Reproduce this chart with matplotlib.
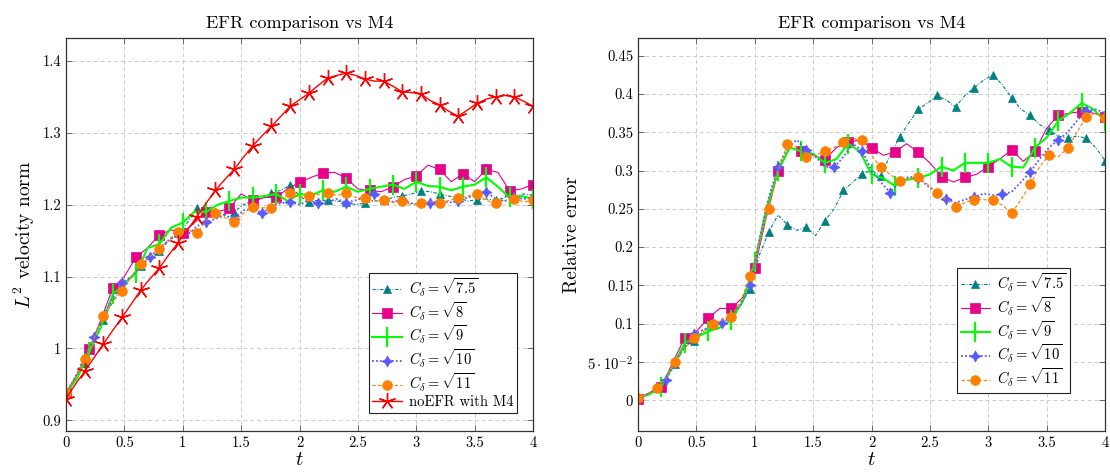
import numpy as np
import matplotlib
matplotlib.use("Agg")
import matplotlib.pyplot as plt

plt.rcParams["font.family"] = "serif"
plt.rcParams["font.serif"] = ["cmr10", "DejaVu Serif"]
plt.rcParams["mathtext.fontset"] = "cm"
plt.rcParams["axes.unicode_minus"] = False
plt.rcParams["axes.formatter.use_mathtext"] = True

# time grids (0.08 and 0.1 spacing)
t08 = np.linspace(0, 4, 51)
t10 = np.linspace(0, 4, 41)

# ---- left panel: L2 velocity norm ----
norm_75 = [0.937, 0.955, 0.980, 1.010, 1.040, 1.065, 1.085, 1.100, 1.115, 1.125, 1.135, 1.150, 1.160,
           1.175, 1.195, 1.192, 1.190, 1.186, 1.190, 1.200, 1.205, 1.208, 1.216, 1.220, 1.227, 1.212,
           1.204, 1.206, 1.206, 1.205, 1.204, 1.200, 1.202, 1.205, 1.206, 1.210, 1.212, 1.215, 1.219,
           1.218, 1.215, 1.212, 1.210, 1.205, 1.207, 1.208, 1.206, 1.210, 1.212, 1.215, 1.213]
norm_8 = [0.938, 0.965, 0.999, 1.040, 1.084, 1.100, 1.127, 1.140, 1.158, 1.165, 1.160, 1.175, 1.190,
          1.190, 1.195, 1.215, 1.206, 1.210, 1.211, 1.222, 1.231, 1.238, 1.244, 1.245, 1.237, 1.222,
          1.220, 1.218, 1.225, 1.235, 1.240, 1.255, 1.249, 1.232, 1.243, 1.232, 1.249, 1.245, 1.219,
          1.222, 1.228]
norm_9 = [0.937, 0.960, 0.995, 1.030, 1.075, 1.090, 1.105, 1.140, 1.145, 1.168, 1.175, 1.190, 1.190,
          1.200, 1.205, 1.210, 1.210, 1.212, 1.215, 1.205, 1.215, 1.213, 1.220, 1.218, 1.225, 1.218,
          1.222, 1.225, 1.228, 1.222, 1.232, 1.226, 1.225, 1.220, 1.225, 1.228, 1.238, 1.225, 1.210,
          1.212, 1.208]
norm_10 = [0.937, 0.960, 0.990, 1.016, 1.045, 1.070, 1.091, 1.100, 1.115, 1.127, 1.140, 1.150, 1.160,
           1.158, 1.170, 1.176, 1.180, 1.185, 1.180, 1.192, 1.195, 1.188, 1.198, 1.202, 1.204, 1.200,
           1.206, 1.202, 1.204, 1.208, 1.203, 1.206, 1.210, 1.215, 1.208, 1.204, 1.206, 1.202, 1.200,
           1.202, 1.206, 1.203, 1.205, 1.210, 1.214, 1.218, 1.208, 1.205, 1.210, 1.208, 1.210]
norm_11 = [0.938, 0.960, 0.985, 1.015, 1.045, 1.065, 1.080, 1.100, 1.117, 1.128, 1.138, 1.152, 1.162,
           1.165, 1.160, 1.178, 1.188, 1.182, 1.176, 1.188, 1.197, 1.196, 1.195, 1.207, 1.216, 1.210,
           1.212, 1.214, 1.216, 1.213, 1.216, 1.210, 1.209, 1.205, 1.206, 1.203, 1.205, 1.200, 1.202,
           1.204, 1.202, 1.206, 1.209, 1.212, 1.215, 1.206, 1.202, 1.206, 1.208, 1.204, 1.206]
norm_noefr = [0.930, 0.950, 0.968, 0.987, 1.006, 1.025, 1.043, 1.062, 1.081, 1.097, 1.112, 1.130, 1.147,
              1.165, 1.183, 1.202, 1.220, 1.235, 1.249, 1.266, 1.282, 1.296, 1.309, 1.323, 1.337, 1.346,
              1.355, 1.366, 1.376, 1.380, 1.383, 1.380, 1.375, 1.372, 1.372, 1.365, 1.357, 1.356, 1.354,
              1.345, 1.339, 1.330, 1.323, 1.332, 1.341, 1.347, 1.350, 1.352, 1.350, 1.344, 1.337]

# ---- right panel: relative error ----
err_75 = [0.003, 0.008, 0.016, 0.028, 0.048, 0.070, 0.078, 0.090, 0.098, 0.100, 0.110, 0.125, 0.145,
          0.190, 0.220, 0.242, 0.229, 0.222, 0.226, 0.215, 0.234, 0.250, 0.274, 0.285, 0.296, 0.300,
          0.293, 0.320, 0.344, 0.362, 0.380, 0.388, 0.398, 0.392, 0.383, 0.398, 0.408, 0.418, 0.425,
          0.412, 0.395, 0.380, 0.372, 0.360, 0.353, 0.345, 0.342, 0.345, 0.342, 0.330, 0.313]
err_8 = [0.002, 0.010, 0.018, 0.050, 0.082, 0.090, 0.107, 0.120, 0.120, 0.135, 0.173, 0.240, 0.299,
         0.330, 0.325, 0.320, 0.314, 0.330, 0.337, 0.340, 0.330, 0.320, 0.324, 0.335, 0.324, 0.310,
         0.292, 0.285, 0.291, 0.295, 0.305, 0.315, 0.327, 0.312, 0.325, 0.355, 0.372, 0.375, 0.377,
         0.375, 0.370]
err_9 = [0.003, 0.008, 0.018, 0.045, 0.075, 0.082, 0.090, 0.095, 0.105, 0.130, 0.180, 0.250, 0.300,
         0.330, 0.325, 0.322, 0.310, 0.315, 0.335, 0.325, 0.295, 0.290, 0.280, 0.288, 0.290, 0.295,
         0.305, 0.300, 0.310, 0.310, 0.310, 0.315, 0.305, 0.304, 0.330, 0.343, 0.365, 0.375, 0.388,
         0.380, 0.365]
err_10 = [0.003, 0.008, 0.016, 0.027, 0.050, 0.070, 0.087, 0.092, 0.098, 0.101, 0.112, 0.125, 0.150,
          0.210, 0.265, 0.305, 0.330, 0.340, 0.327, 0.318, 0.305, 0.304, 0.318, 0.335, 0.326, 0.300,
          0.285, 0.271, 0.285, 0.292, 0.290, 0.280, 0.270, 0.263, 0.258, 0.262, 0.265, 0.270, 0.268,
          0.269, 0.272, 0.285, 0.298, 0.315, 0.330, 0.340, 0.350, 0.365, 0.378, 0.380, 0.375]
err_11 = [0.003, 0.008, 0.016, 0.030, 0.050, 0.068, 0.081, 0.090, 0.100, 0.105, 0.109, 0.130, 0.162,
          0.205, 0.250, 0.300, 0.334, 0.330, 0.318, 0.320, 0.325, 0.330, 0.337, 0.342, 0.340, 0.320,
          0.304, 0.295, 0.286, 0.290, 0.291, 0.282, 0.271, 0.262, 0.253, 0.258, 0.262, 0.262, 0.261,
          0.255, 0.244, 0.262, 0.282, 0.305, 0.320, 0.318, 0.329, 0.350, 0.370, 0.375, 0.368]

labels = [r"$C_\delta = \sqrt{7.5}$", r"$C_\delta = \sqrt{8}$", r"$C_\delta = \sqrt{9}$",
          r"$C_\delta = \sqrt{10}$", r"$C_\delta = \sqrt{11}$"]
noefr_label = "noEFR with M4"

x_ticks = [0, 0.5, 1, 1.5, 2, 2.5, 3, 3.5, 4]
x_ticklabels = ["0", "0.5", "1", "1.5", "2", "2.5", "3", "3.5", "4"]
left_yticks = [0.9, 1.0, 1.1, 1.2, 1.3, 1.4]
left_yticklabels = ["0.9", "1", "1.1", "1.2", "1.3", "1.4"]
right_yticks = [0, 0.05, 0.1, 0.15, 0.2, 0.25, 0.3, 0.35, 0.4, 0.45]
right_yticklabels = ["0", r"$5\cdot10^{-2}$", "0.1", "0.15", "0.2", "0.25", "0.3", "0.35", "0.4", "0.45"]

# style of each series: (color, linestyle, linewidth, marker, markersize, markevery)
styles = [
    ("#008080", (0, (3, 1.5, 0.8, 1.5)), 0.8, "^", 6, 2),
    ("#e6008a", "-", 0.8, "s", 6.5, 2),
    ("#00ff00", "-", 1.5, "|", 14, 2),
    ("#5a5aff", (0, (1, 1.2)), 1.3, (4, 1, 0), 8, 3),
    ("#ff8000", (0, (3, 2)), 0.8, "o", 7, 2),
]


def draw_series(ax, series):
    for (tt, yy), lab, (c, ls, lw, mk, ms, me) in zip(series, labels, styles):
        ax.plot(tt, yy, color=c, linestyle=ls, linewidth=lw, marker=mk, markersize=ms,
                markevery=me, markeredgewidth=1.6 if mk == "|" else 0.5,
                markeredgecolor=c, markerfacecolor=c, label=lab)


def style_axis(ax, ylim, yticks, yticklabels, ylabel):
    ax.set_xlim(0, 4)
    ax.set_ylim(*ylim)
    ax.set_xticks(x_ticks)
    ax.set_xticklabels(x_ticklabels)
    ax.set_yticks(yticks)
    ax.set_yticklabels(yticklabels)
    ax.tick_params(direction="in", top=True, right=True, labelsize=10.5, length=4, width=0.6,
                   color="#555555")
    ax.grid(True, color="#cccccc", linestyle=(0, (4, 3)), linewidth=0.7)
    ax.set_axisbelow(True)
    for sp in ax.spines.values():
        sp.set_color("#333333")
        sp.set_linewidth(0.9)
    ax.set_title("EFR comparison vs M4", fontsize=13, pad=7)
    ax.set_xlabel(r"$t$", fontsize=15, labelpad=1)
    ax.set_ylabel(ylabel, fontsize=14)


def add_legend(ax, anchor):
    leg = ax.legend(loc="lower right", bbox_to_anchor=anchor, borderaxespad=0,
                    fontsize=10.5, fancybox=False, edgecolor="#222222", framealpha=1,
                    handlelength=2.0, labelspacing=0.1, borderpad=0.25, handletextpad=0.5)
    leg.get_frame().set_linewidth(0.8)
    return leg


def main():
    fig = plt.figure(figsize=(11.1, 4.76), dpi=100)
    ax1 = fig.add_axes([66 / 1110, 1 - 431 / 476, 467 / 1110, 393 / 476])
    ax2 = fig.add_axes([638 / 1110, 1 - 431 / 476, 467 / 1110, 393 / 476])

    draw_series(ax1, [(t08, norm_75), (t10, norm_8), (t10, norm_9), (t08, norm_10), (t08, norm_11)])
    ax1.plot(t08, norm_noefr, color="#ff0000", linewidth=1.0, marker=(5, 2, 0), markersize=12,
             markevery=2, markeredgewidth=1.0, label=noefr_label)
    style_axis(ax1, (0.885, 1.432), left_yticks, left_yticklabels, r"$L^2$ velocity norm")
    add_legend(ax1, (0.966, 0.046))

    draw_series(ax2, [(t08, err_75), (t10, err_8), (t10, err_9), (t08, err_10), (t08, err_11)])
    style_axis(ax2, (-0.040, 0.473), right_yticks, right_yticklabels, "Relative error")
    add_legend(ax2, (0.925, 0.097))

    fig.savefig("out.png", dpi=100, facecolor="white")


if __name__ == "__main__":
    main()
